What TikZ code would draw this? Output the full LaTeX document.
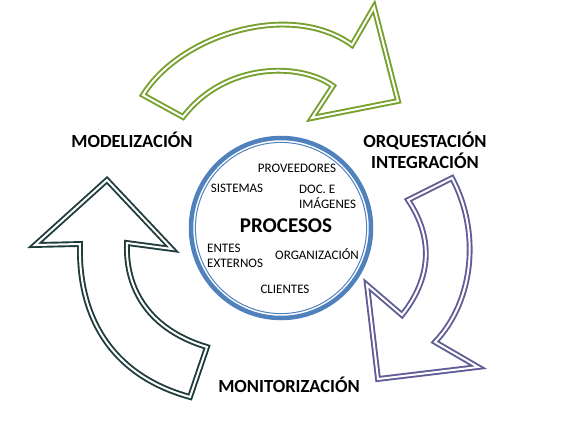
\documentclass[tikz,border=0pt]{standalone}
\usepackage{fontspec}
\setmainfont{Carlito}
\definecolor{arrowGreen}{RGB}{118,160,44}
\definecolor{arrowPurple}{RGB}{96,92,150}
\definecolor{arrowTeal}{RGB}{32,60,60}
\definecolor{ringBlue}{RGB}{79,129,189}
\tikzset{
  blockarrow/.style={draw=#1, line width=1.9pt, double=white, double distance=2pt, line join=miter},
  smalllabel/.style={font=\fontsize{13}{14.5}\selectfont, inner sep=0pt, align=left},
  biglabel/.style={font=\fontsize{18.5}{21}\selectfont\bfseries, inner sep=0pt, align=center}
}
\begin{document}
\begin{tikzpicture}[x=1pt, y=-1pt]

        \useasboundingbox (0,0) rectangle (576,432);

        \coordinate (gTailL) at (143,95);
        \coordinate (gTailR) at (183,117);
        \coordinate (gOuter) at (352,45);
        \coordinate (gInner) at (333,86);

        \draw[blockarrow=arrowGreen] (gTailL) .. controls (180,35) and (290,0) .. (gOuter)
            -- (374,7) -- (398,101) -- (312,118) -- (gInner)
            .. controls (300,62) and (225,62) .. (gTailR) -- cycle;

        \coordinate (pTailL) at (408,200);
        \coordinate (pTailR) at (452,178);
        \coordinate (pOuter) at (435,342);
        \coordinate (pInner) at (402,315);

        \draw[blockarrow=arrowPurple] (pTailL) -- (pTailR) .. controls (480,230) and (475,300) .. (pOuter)
            -- (478,367) -- (378,379) -- (367,285) -- (pInner)
            .. controls (430,280) and (435,240) .. (pTailL) -- cycle;

        \coordinate (tTip) at (107,180);
        \coordinate (tInner) at (127,243);
        \coordinate (tOuter) at (80,244);

        \draw[blockarrow=arrowTeal] (tTip) -- (172,249) -- (tInner)
            .. controls (125,290) and (150,330) .. (207,347) -- (190,397)
            .. controls (110,375) and (78,315) .. (tOuter) -- (35,245) -- cycle;

        \coordinate (center) at (281,228);
        \draw[ringBlue, line width=4.5pt] (center) circle (90);
        \draw[ringBlue, line width=1pt] (center) circle (85.6);

        \node[biglabel] (modelizacion) at (132,140) {MODELIZACIÓN};
        \node[biglabel] (orquestacion) at (425,150) {ORQUESTACIÓN\\INTEGRACIÓN};
        \node[biglabel] (monitorizacion) at (289,385) {MONITORIZACIÓN};

        \node[biglabel, font=\fontsize{21}{24}\selectfont\bfseries] (procesos) at (286,226) {PROCESOS};
        \node[smalllabel] (proveedores) at (297,168) {PROVEEDORES};
        \node[smalllabel] (sistemas) at (237,188) {SISTEMAS};
        \node[smalllabel, anchor=west] (documentos) at (299,197) {DOC. E\\IMÁGENES};
        \node[smalllabel, anchor=west] (entes) at (207,256) {ENTES\\EXTERNOS};
        \node[smalllabel] (organizacion) at (317,254) {ORGANIZACIÓN};
        \node[smalllabel] (clientes) at (285,289) {CLIENTES};

    \end{tikzpicture}
\end{document}
